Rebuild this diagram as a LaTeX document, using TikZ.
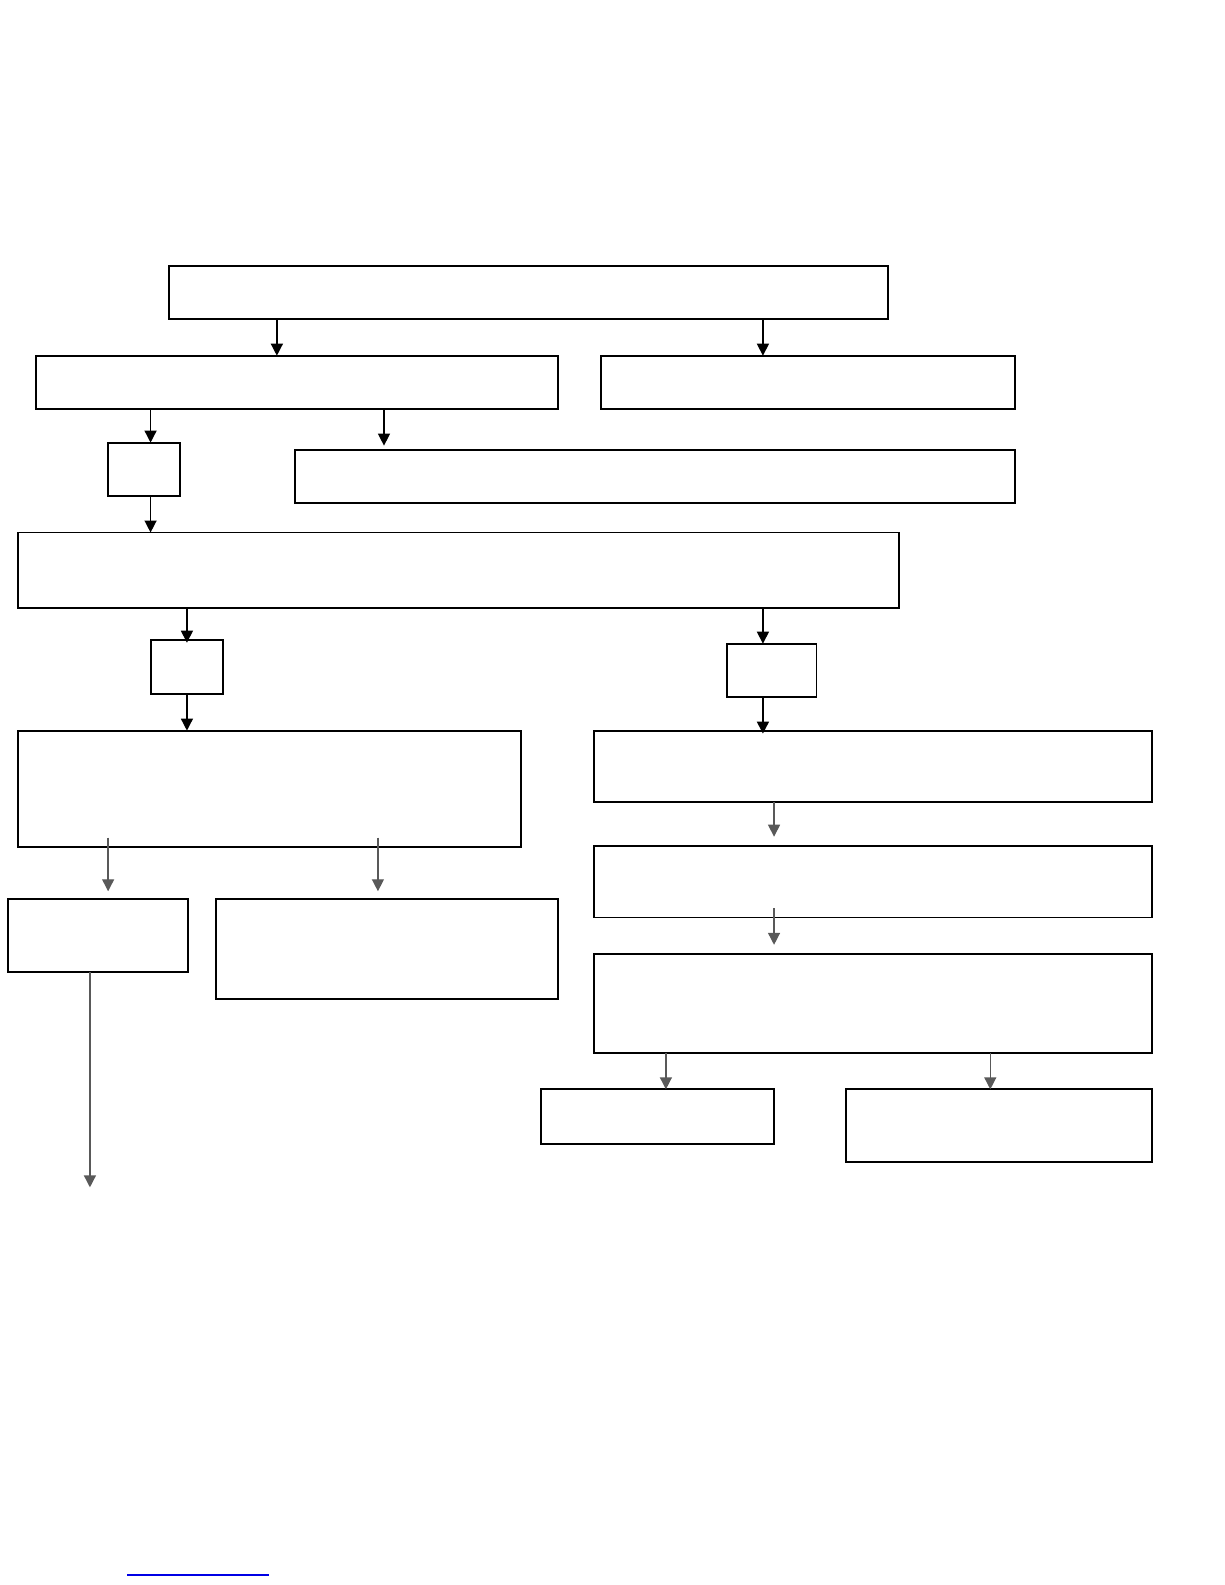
\documentclass[tikz,border=0pt]{standalone}
\usetikzlibrary{arrows.meta,calc}
\begin{document}
\begin{tikzpicture}[x=1pt,y=-1pt,
  box/.style={draw=black,line width=1.9pt,fill=white,inner sep=0pt,outer sep=0pt},
  arr/.style={draw=black,line width=1.4pt,-{Triangle[width=12pt,length=12pt]}},
  garr/.style={arr,draw=black!65}]
\useasboundingbox (0,0) rectangle (1225,1585);
\begin{scope}[x=1.0105pt,y=-1.0105pt]
% boxes: center, width, height
\newcommand{\bx}[5]{\node[box,minimum width={#4*1.0105pt},minimum height={#5*1.0105pt}] (#1) at (#2,#3) {};}
\bx{A}{523}{289.5}{712}{53}
\bx{B}{294}{378.5}{516}{53}
\bx{C}{799.5}{378.5}{409}{53}
\bx{D}{142.5}{464.5}{71}{53}
\bx{E}{648}{471.5}{712}{53}
\bx{F}{454}{564.5}{872}{75}
\bx{G}{185}{660}{72}{54}
\bx{H}{763.5}{663.5}{89}{53}
\bx{I}{267}{780.5}{498}{115}
\bx{J}{864}{758.5}{552}{71}
\bx{K}{97}{926}{178}{72}
\bx{L}{383}{939.5}{338}{99}
\bx{M}{864}{872.5}{552}{71}
\bx{N}{864}{993}{552}{98}
\bx{O}{650.5}{1105}{231}{54}
\bx{P}{988.5}{1114}{303}{72}
\coordinate (kend) at (89,1175);
% connectors
\draw[arr] (A.south -| 274,0) -- (B.north -| 274,0);
\draw[arr] (A.south -| 755,0) -- (C.north -| 755,0);
\draw[arr] (B.south -| 149,0) -- (D.north -| 149,0);
\draw[arr] (B.south -| 380,0) -- ($(E.north -| 380,0)+(0,-4)$);
\draw[arr] (D.south -| 149,0) -- (F.north -| 149,0);
\draw[arr] (F.south -| 185,0) -- ($(G.north -| 185,0)+(0,3)$);
\draw[arr] (F.south -| 755,0) -- (H.north -| 755,0);
\draw[arr] (G.south -| 185,0) -- (I.north -| 185,0);
\draw[arr] (H.south -| 755,0) -- ($(J.north -| 755,0)+(0,3)$);
\draw[garr] ($(I.south -| 107,0)+(0,-9)$) -- ($(K.north -| 107,0)+(0,-8)$);
\draw[garr] ($(I.south -| 374,0)+(0,-9)$) -- ($(L.north -| 374,0)+(0,-8)$);
\draw[garr] (J.south -| 766,0) -- ($(M.north -| 766,0)+(0,-9)$);
\draw[garr] ($(M.south -| 766,0)+(0,-9)$) -- ($(N.north -| 766,0)+(0,-9)$);
\draw[garr] (N.south -| 659,0) -- (O.north -| 659,0);
\draw[garr] (N.south -| 980,0) -- (P.north -| 980,0);
\draw[garr] (K.south -| 89,0) -- (kend);
\end{scope}
% blue underline at the foot of the page
\draw[blue!90!black,line width=1.2pt] (127,1575) -- (269,1575);
\end{tikzpicture}
\end{document}
